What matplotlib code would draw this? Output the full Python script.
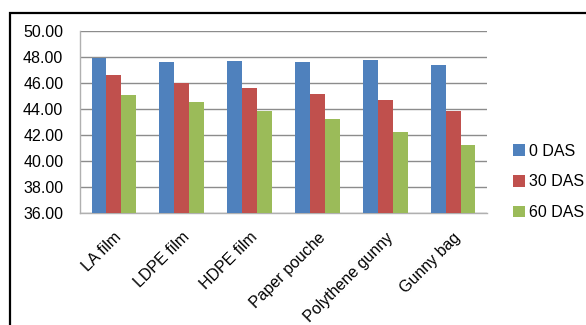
import numpy as np
import matplotlib.pyplot as plt
from matplotlib.patches import Rectangle

plt.rcParams['font.family'] = ['Liberation Sans', 'DejaVu Sans']

# Data: mean values per storage container at three sampling dates
containers = ['LA film', 'LDPE film', 'HDPE film', 'Paper pouche',
              'Polythene gunny', 'Gunny bag']
das_0 = [47.90, 47.65, 47.70, 47.65, 47.78, 47.39]
das_30 = [46.65, 45.98, 45.58, 45.17, 44.73, 43.86]
das_60 = [45.06, 44.53, 43.81, 43.25, 42.25, 41.23]
series_names = ['0 DAS', '30 DAS', '60 DAS']
colors = ['#4F81BD', '#C0504D', '#9BBB59']

fig = plt.figure(figsize=(5.86, 3.25), dpi=100)
ax = fig.add_axes([0.1365, 0.3446, 0.6945, 0.56])

x = np.arange(len(containers))
w = 0.22
for i, (vals, name, c) in enumerate(zip([das_0, das_30, das_60], series_names, colors)):
    ax.bar(x + (i - 1) * w, vals, width=w, color=c, label=name, zorder=3)

fs = 11.5
ax.set_ylim(36, 50)
ax.set_xlim(-0.5, len(containers) - 0.5)
ax.set_yticks(np.arange(36, 50.1, 2))
ax.set_yticklabels([f'{v:.2f}' for v in np.arange(36, 50.1, 2)], fontsize=fs)
ax.set_xticks(x)
ax.set_xticklabels(containers, rotation=45, ha='right', va='top',
                   rotation_mode='anchor', fontsize=fs)
ax.tick_params(axis='y', length=0, pad=12)
ax.tick_params(axis='x', length=0, pad=12)

ax.grid(axis='y', color='#8c8c8c', linewidth=1, zorder=0)
for side in ['top', 'right']:
    ax.spines[side].set_visible(False)
for side in ['left', 'bottom']:
    ax.spines[side].set_color('#b0b0b0')
    ax.spines[side].set_linewidth(1)

fig.legend(loc='center left', bbox_to_anchor=(0.876, 0.44), frameon=False,
           fontsize=fs, handlelength=0.7, handleheight=0.7,
           handletextpad=0.25, labelspacing=1.0, borderaxespad=0,
           borderpad=0)

# black frame around the chart
fig.patches.append(Rectangle((10 / 586, -0.1), 1.2, 1 - 13 / 325 + 0.1,
                             transform=fig.transFigure, fill=False,
                             edgecolor='black', linewidth=1.6))

fig.savefig('out.png', dpi=100)
